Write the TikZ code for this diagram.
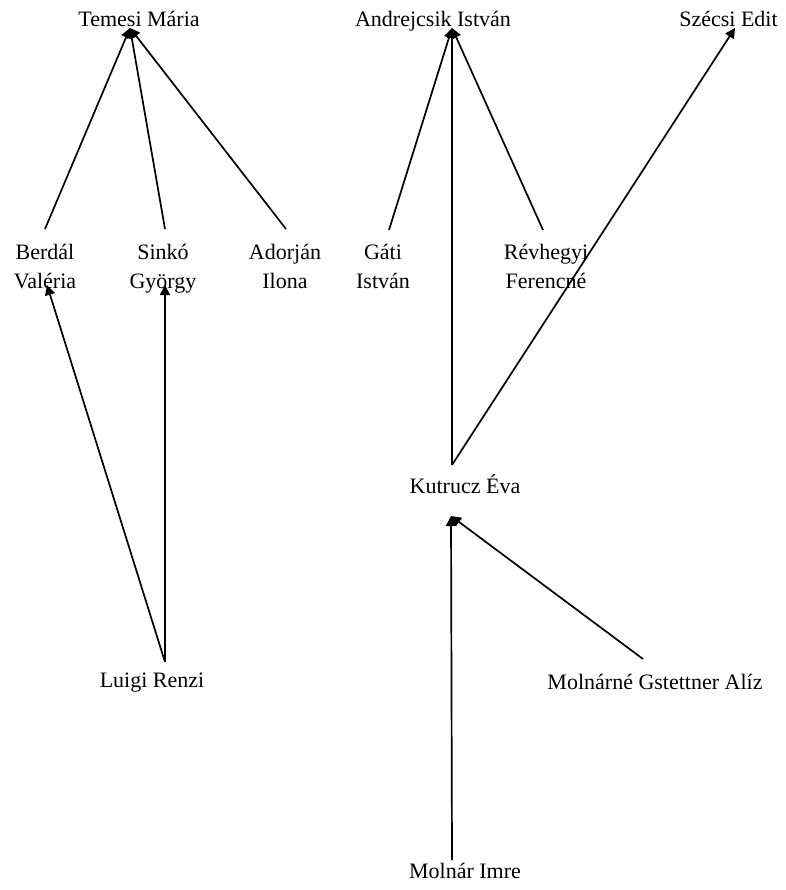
\documentclass[tikz,border=0pt]{standalone}
\usepackage{fontspec}
\setmainfont{Liberation Serif}
\usetikzlibrary{arrows.meta,calc}

\newcommand{\twolines}[2]{\begin{tabular}[t]{@{}c@{}}#1\\#2\end{tabular}}

\begin{document}
\begin{tikzpicture}[x=1pt,y=-1pt,
  person/.style={inner sep=0pt, anchor=base, font=\fontsize{22}{29}\selectfont},
  link/.style={line width=1.7pt, -{Triangle[length=10pt,width=10pt]}}]
\useasboundingbox (0,0) rectangle (785,890);

% top row
\node[person] (temesi) at (139,27) {Temesi Mária};
\node[person] (andrejcsik) at (433,27) {Andrejcsik István};
\node[person] (szecsi) at (728.5,27) {Szécsi Edit};

% second row
\node[person] (berdal) at (45,259) {\twolines{Berdál}{Valéria}};
\node[person] (sinko) at (163,259) {\twolines{Sinkó}{György}};
\node[person] (adorjan) at (285,259) {\twolines{Adorján}{Ilona}};
\node[person] (gati) at (383,259) {\twolines{Gáti}{István}};
\node[person] (revhegyi) at (546,259) {\twolines{Révhegyi}{Ferencné}};

% middle and lower rows
\node[person] (kutrucz) at (465,493) {Kutrucz Éva};
\node[person] (luigi) at (152,687) {Luigi Renzi};
\node[person] (molnarne) at (655,689) {Molnárné Gstettner Alíz};
\node[person] (molnar) at (465,878) {Molnár Imre};

% edge end points
\coordinate (temesiIn) at ($(temesi.base)+(-9,1)$);
\coordinate (andrejcsikIn) at ($(andrejcsik.base)+(19,1)$);
\coordinate (szecsiIn) at ($(szecsi.base)+(6.5,1)$);
\coordinate (berdalIn) at ($(berdal.base)+(2,26)$);
\coordinate (sinkoIn) at ($(sinko.base)+(2,26)$);
\coordinate (kutruczIn) at ($(kutrucz.base)+(-14,23)$);
\coordinate (kutruczOut) at ($(kutrucz.base)+(-13,-28)$);
\coordinate (luigiOut) at ($(luigi.base)+(13,-25)$);

\draw[link] ($(berdal.base)+(0,-30)$) -- (temesiIn);
\draw[link] ($(sinko.base)+(2,-30)$) -- (temesiIn);
\draw[link] ($(adorjan.base)+(1,-30)$) -- (temesiIn);

\draw[link] ($(gati.base)+(6,-29)$) -- (andrejcsikIn);
\draw[link] ($(revhegyi.base)+(-3,-29)$) -- (andrejcsikIn);
\draw[link] (kutruczOut) -- (andrejcsikIn);
\draw[link] (kutruczOut) -- (szecsiIn);

\draw[link] (luigiOut) -- (berdalIn);
\draw[link] (luigiOut) -- (sinkoIn);

\draw[link] ($(molnarne.base)+(-12,-30)$) -- (kutruczIn);
\draw[link] ($(molnar.base)+(-13,-18)$) -- (kutruczIn);
\end{tikzpicture}
\end{document}
